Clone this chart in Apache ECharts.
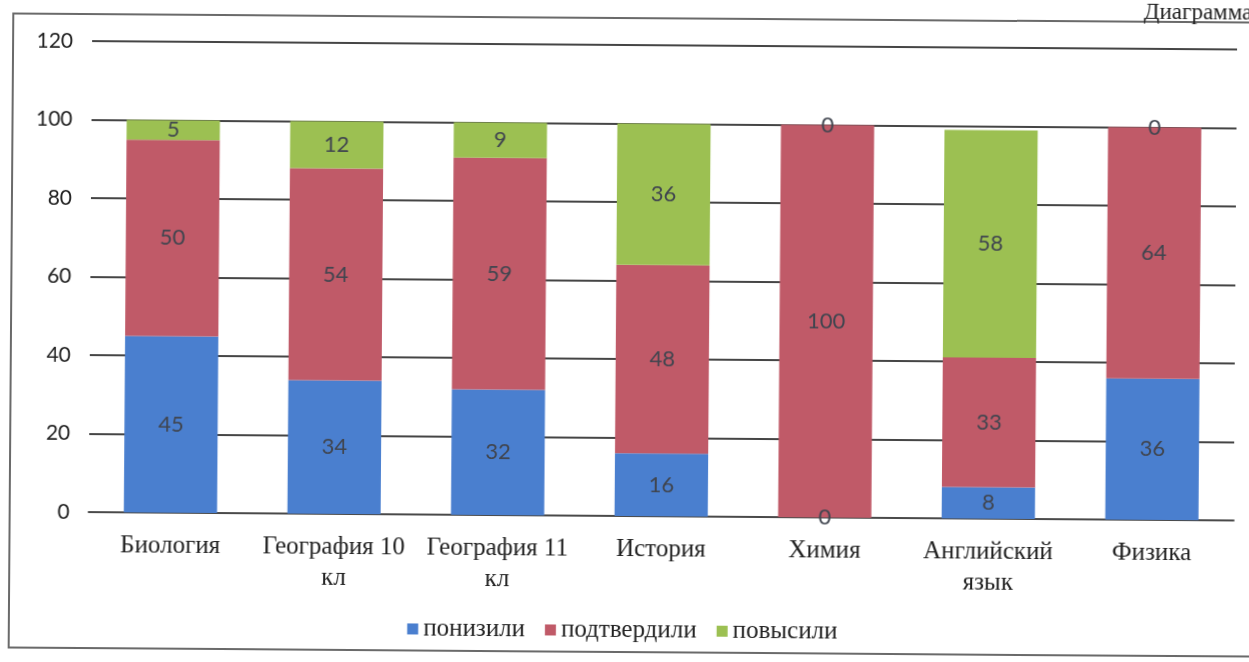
<!DOCTYPE html>
<html>
<head>
<meta charset="utf-8">
<script src="https://cdn.jsdelivr.net/npm/echarts@6/dist/echarts.min.js"></script>
<style>
  html, body { margin: 0; padding: 0; background: #fff; overflow: hidden; }
  #wrap { position: relative; width: 1249px; height: 662px; transform: rotate(0.42deg); transform-origin: 624px 331px; }
  #frame { position: absolute; left: 10px; top: 17px; width: 1260px; height: 636px; border: 2px solid #6a6a6a; box-sizing: border-box; }
  #chart { position: absolute; left: 0; top: 0; width: 1249px; height: 662px; }
</style>
</head>
<body>
<div id="wrap">
  <div id="frame"></div>
  <div id="chart"></div>
</div>
<script>
const categories = ['Биология', 'География 10\nкл', 'География 11\nкл', 'История', 'Химия', 'Английский\nязык', 'Физика'];
const seriesNames = ['понизили', 'подтвердили', 'повысили'];
const lowered = [45, 34, 32, 16, 0, 8, 36];
const confirmed = [50, 54, 59, 48, 100, 33, 64];
const raised = [5, 12, 9, 36, 0, 58, 0];
const yTicks = { min: 0, max: 120, interval: 20 };
const titleText = 'Диаграмма';

const colors = ['#4a7fcf', '#c05a68', '#9cc052'];
const labelStyle = {
  show: true,
  position: 'inside',
  color: '#40454f',
  fontFamily: 'Lato, "Open Sans", sans-serif',
  fontSize: 22
};

const chart = echarts.init(document.getElementById('chart'), null, { renderer: 'canvas' });
const values = [lowered, confirmed, raised];
chart.setOption({
  animation: false,
  backgroundColor: 'transparent',
  title: {
    text: titleText,
    right: -6,
    top: -8,
    textStyle: { fontFamily: '"Liberation Serif", serif', fontSize: 23, fontWeight: 'normal', color: '#222' }
  },
  grid: { left: 90, right: 14, top: 45, bottom: 146, containLabel: false },
  legend: {
    data: seriesNames,
    bottom: 14,
    left: 'center',
    icon: 'rect',
    itemWidth: 11,
    itemHeight: 11,
    itemGap: 20,
    textStyle: { fontFamily: '"Liberation Serif", serif', fontSize: 25, color: '#222' }
  },
  xAxis: {
    type: 'category',
    data: categories,
    axisLine: { show: true, lineStyle: { color: '#4a4a4a', width: 2 } },
    axisTick: { show: false },
    axisLabel: {
      interval: 0,
      margin: 18,
      fontFamily: '"Liberation Serif", serif',
      fontSize: 25,
      lineHeight: 31,
      color: '#222'
    }
  },
  yAxis: {
    type: 'value',
    min: yTicks.min,
    max: yTicks.max,
    interval: yTicks.interval,
    axisLine: { show: false },
    axisTick: { show: false },
    splitLine: { show: true, lineStyle: { color: '#454545', width: 2 } },
    axisLabel: {
      margin: 19,
      fontFamily: 'Lato, "Open Sans", sans-serif',
      fontSize: 21,
      color: '#222'
    }
  },
  series: seriesNames.map((name, i) => ({
    name,
    type: 'bar',
    stack: 'total',
    barCategoryGap: '43%',
    data: values[i],
    itemStyle: { color: colors[i] },
    label: labelStyle
  }))
});
</script>
</body>
</html>
